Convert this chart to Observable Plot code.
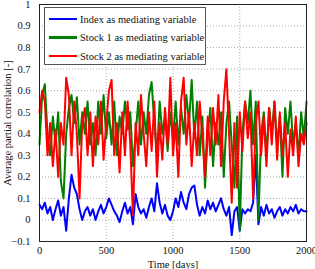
<!DOCTYPE html>
<html><head><meta charset="utf-8">
<script src="https://cdn.jsdelivr.net/npm/d3@7"></script>
<script src="https://cdn.jsdelivr.net/npm/@observablehq/plot@0.6"></script>
<style>
body{margin:0;background:#fff;}
#wrap{position:relative;width:315px;height:269px;font-family:"Liberation Serif",serif;}
#wrap svg{overflow:visible;}
#legend{position:absolute;left:44px;top:7px;width:162px;height:58px;background:#fff;border:1px solid #555;box-sizing:border-box;font-size:10.5px;color:#111;white-space:nowrap;}
.row{position:absolute;left:4px;height:12px;display:flex;align-items:center;}
.sw{width:28px;height:2.5px;margin-right:3px;flex:none;}
</style></head>
<body><div id="wrap"></div>
<script>
const seriesNames = ["Index as mediating variable","Stock 1 as mediating variable","Stock 2 as mediating variable"];
const seriesColors = ["#0000ff","#008000","#ff0000"];
const days = d3.range(0, 2001, 20);
const indexVals = [0.07,0.05,0.08,0.03,0.06,0.00,0.05,0.09,0.02,0.06,-0.05,0.10,0.21,0.15,0.12,0.05,0.00,0.04,0.06,0.02,0.05,0.00,0.04,0.07,0.03,0.06,0.10,0.07,0.04,0.02,-0.01,0.04,0.08,0.03,0.06,-0.02,0.12,0.06,0.03,0.05,0.01,0.06,0.10,0.04,0.17,0.08,0.03,0.07,0.02,0.00,0.04,0.10,0.06,0.13,0.08,0.05,0.12,0.15,0.16,0.07,0.02,0.06,0.03,0.09,0.05,0.08,0.04,0.07,0.10,0.05,0.02,0.06,-0.07,0.04,0.06,-0.05,0.05,0.03,0.05,0.04,0.08,0.30,-0.02,0.06,0.02,0.07,0.03,0.05,0.01,0.04,0.06,0.02,0.05,0.03,0.06,0.04,0.07,0.03,0.05,0.04,0.04];
const stock1Vals = [0.35,0.58,0.63,0.40,0.30,0.48,0.35,0.50,0.18,0.10,0.40,0.52,0.58,0.45,0.57,0.35,0.50,0.40,0.55,0.35,0.45,0.30,0.55,0.40,0.58,0.38,0.50,0.35,0.55,0.30,0.48,0.40,0.55,0.42,0.50,0.25,0.40,0.55,0.35,0.50,0.40,0.58,0.64,0.45,0.30,0.55,0.40,0.48,0.32,0.50,0.38,0.55,0.35,0.52,0.40,0.58,0.45,0.65,0.38,0.55,0.30,0.48,0.15,0.40,0.52,0.25,0.45,0.35,0.50,0.20,0.45,0.55,0.35,0.15,0.48,-0.05,0.40,0.55,0.45,0.60,0.35,0.55,0.00,0.40,0.50,0.30,0.52,0.40,0.55,0.35,0.48,0.20,0.52,0.40,0.55,0.35,0.45,0.30,0.50,0.38,0.55];
const stock2Vals = [0.50,0.60,0.55,0.30,0.45,0.25,0.42,0.20,0.45,0.35,0.66,0.58,0.30,0.55,0.40,0.10,0.45,0.52,0.30,0.50,0.25,0.48,0.35,0.55,0.28,0.45,0.60,0.65,0.30,0.45,0.22,0.50,0.30,0.55,0.35,0.02,0.45,0.30,0.58,0.40,0.25,0.50,0.32,0.55,0.20,0.45,0.28,0.52,0.35,0.66,0.30,0.45,0.20,0.55,0.66,0.35,0.50,0.25,0.45,0.30,0.55,0.38,0.20,0.48,0.30,0.52,0.35,0.58,0.25,0.55,0.70,0.40,0.08,0.45,0.15,0.50,0.32,0.55,0.38,0.50,0.10,0.45,0.55,0.30,0.48,0.25,0.52,0.35,0.55,0.28,0.50,0.30,0.45,0.20,0.42,0.30,0.48,0.25,0.40,0.35,0.45];
const xTicks = [0,500,1000,1500,2000];
const yTicks = [-0.1,0,0.1,0.2,0.3,0.4,0.5,0.6,0.7,0.8,0.9,1];

const data = [];
[indexVals, stock1Vals, stock2Vals].forEach((vals, k) => vals.forEach((v, i) => data.push({day: days[i], value: v, series: seriesNames[k]})));

const plot = Plot.plot({
  width: 315, height: 269,
  marginLeft: 39, marginRight: 9, marginTop: 4, marginBottom: 28,
  style: {fontFamily: "Liberation Serif, serif", fontSize: "10.5px", color: "#111", background: "#fff", overflow: "visible"},
  x: {domain: [0, 2000]},
  y: {domain: [-0.1, 1]},
  color: {domain: seriesNames, range: seriesColors},
  marks: [
    Plot.gridX(xTicks, {stroke: "#aaa", strokeOpacity: 1, strokeDasharray: "1,2"}),
    Plot.gridY(yTicks, {stroke: "#aaa", strokeOpacity: 1, strokeDasharray: "1,2"}),
    Plot.line(data, {x: "day", y: "value", z: "series", stroke: "series", strokeWidth: 2}),
    Plot.frame({stroke: "#222"}),
    Plot.axisX({ticks: xTicks, tickSize: 0, tickPadding: 5, tickFormat: d3.format("d"), label: "Time [days]", labelAnchor: "center", labelOffset: 26, labelArrow: "none"}),
    Plot.axisY({ticks: yTicks, tickSize: 0, tickPadding: 9, tickFormat: d => d3.format("")(+d.toFixed(1)).replace("-", "−"), label: "Average partial correlation [-]", labelAnchor: "center", labelOffset: 36, labelArrow: "none"})
  ]
});
const wrap = document.getElementById("wrap");
wrap.appendChild(plot);
const lg = document.createElement("div");
lg.id = "legend";
seriesNames.forEach((n, k) => {
  const r = document.createElement("div");
  r.className = "row";
  r.style.top = (5 + k * 18.5) + "px";
  r.innerHTML = `<span class="sw" style="background:${seriesColors[k]}"></span><span>${n}</span>`;
  lg.appendChild(r);
});
wrap.appendChild(lg);
</script></body></html>
